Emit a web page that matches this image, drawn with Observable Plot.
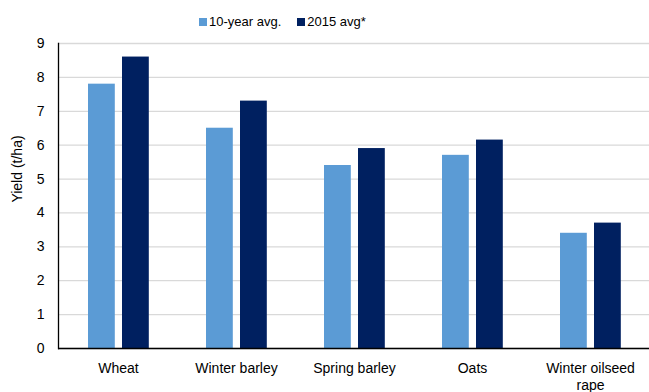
<!DOCTYPE html>
<html>
<head>
<meta charset="utf-8">
<script src="https://cdn.jsdelivr.net/npm/d3@7"></script>
<script src="https://cdn.jsdelivr.net/npm/@observablehq/plot@0.6"></script>
<style>
  body { margin: 0; background: #fff; font-family: "Liberation Sans", Arial, sans-serif; }
  #wrap { position: relative; width: 649px; height: 392px; }
  #legend { position: absolute; left: 199px; top: 14px; display: flex; align-items: center; font-size: 13px; color: #000; }
  #legend .item { display: flex; align-items: center; margin-right: 16px; }
  #legend .sw { width: 8px; height: 8px; margin-right: 2px; }
  #chart { position: absolute; left: 0; top: 36px; }
</style>
</head>
<body>
<div id="wrap">
  <div id="legend"></div>
  <div id="chart"></div>
</div>
<script>
const crops = ["Wheat", "Winter barley", "Spring barley", "Oats", "Winter oilseed rape"];
const cropLabels = ["Wheat", "Winter barley", "Spring barley", "Oats", "Winter oilseed\nrape"];
const seriesNames = ["10-year avg.", "2015 avg*"];
const tenYearAvg = [7.8, 6.5, 5.4, 5.7, 3.4];
const avg2015 = [8.6, 7.3, 5.9, 6.15, 3.7];
const yTicks = [0, 1, 2, 3, 4, 5, 6, 7, 8, 9];
const yTitle = "Yield (t/ha)";
const colors = ["#5b9bd5", "#002060"];

const data = crops.flatMap((c, i) => [
  {crop: c, series: seriesNames[0], value: tenYearAvg[i]},
  {crop: c, series: seriesNames[1], value: avg2015[i]}
]);

const legend = document.getElementById("legend");
seriesNames.forEach((s, i) => {
  const it = document.createElement("div");
  it.className = "item";
  it.innerHTML = `<span class="sw" style="background:${colors[i]}"></span><span>${s}</span>`;
  legend.appendChild(it);
});

const labelOf = new Map(crops.map((c, i) => [c, cropLabels[i]]));

const chart = Plot.plot({
  width: 649,
  height: 356,
  marginTop: 7,
  marginBottom: 44,
  marginLeft: 58,
  marginRight: 0,
  style: {fontFamily: "'Liberation Sans', Arial, sans-serif", fontSize: "14px", color: "#000", background: "#fff"},
  x: {domain: crops, padding: 0},
  y: {domain: [0, 9]},
  color: {domain: seriesNames, range: colors},
  marks: [
    Plot.gridY(yTicks, {stroke: "#d9d9d9", strokeOpacity: 1, strokeWidth: 1.3}),
    Plot.barY(data.filter(d => d.series === seriesNames[0]), {x: "crop", y: "value", fill: "series", insetLeft: 29, insetRight: 62.2}),
    Plot.barY(data.filter(d => d.series === seriesNames[1]), {x: "crop", y: "value", fill: "series", insetLeft: 63, insetRight: 28.2}),
    Plot.axisY(yTicks, {tickSize: 0, tickPadding: 14, label: null, fontSize: 14}),
    Plot.axisX({tickSize: 0, tickPadding: 13, label: null, fontSize: 14, tickFormat: d => labelOf.get(d), lineHeight: 1.2}),
    Plot.text([yTitle], {text: d => d, frameAnchor: "left", textAnchor: "middle", lineAnchor: "middle", rotate: -90, dx: -41, dy: -27, fontSize: "14px", fill: "#000"}),
    Plot.ruleY([0], {stroke: "#000", strokeWidth: 1.3}),
    Plot.frame({anchor: "left", stroke: "#000", strokeWidth: 1.3})
  ]
});
document.getElementById("chart").appendChild(chart);
</script>
</body>
</html>
